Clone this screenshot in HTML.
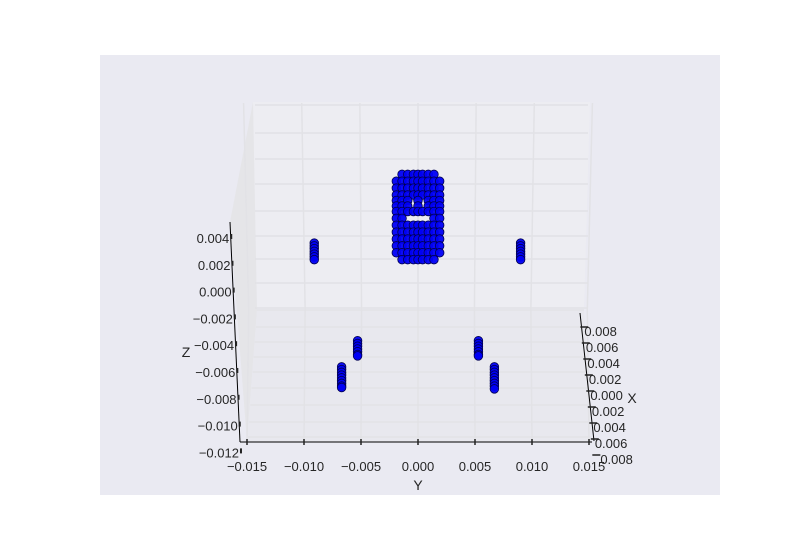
<!DOCTYPE html>
<html><head><meta charset="utf-8"><style>
html,body{margin:0;padding:0;background:#fff;}
svg{display:block;font-family:"Liberation Sans",sans-serif;}
</style></head><body>
<svg id="chart" width="800" height="550" viewBox="0 0 800 550" xmlns="http://www.w3.org/2000/svg">
<rect x="0" y="0" width="800" height="550" fill="#ffffff"/>
<rect x="100" y="55" width="620" height="440" fill="#eaeaf2"/>
<polygon points="253,102 590,102 584,310 257,310" fill="#ededf2"/>
<polygon points="253,102 257,310 247,442 230,222" fill="#e5e5e8"/>
<polygon points="257,310 584,310 592,442 247,442" fill="#e8e8ee"/>
<g id="grid" stroke="#e2e2e6" stroke-width="1.5" fill="none"></g>
<g id="marks"></g>
<g id="axes" font-size="13" fill="#262626"></g>
</svg>
<script>
const yTicks = [-0.015,-0.010,-0.005,0.000,0.005,0.010,0.015];
const yTickLabels = ["\u22120.015","\u22120.010","\u22120.005","0.000","0.005","0.010","0.015"];
const zTicks = [0.004,0.002,0.000,-0.002,-0.004,-0.006,-0.008,-0.010,-0.012];
const zTickLabels = ["0.004","0.002","0.000","\u22120.002","\u22120.004","\u22120.006","\u22120.008","\u22120.010","\u22120.012"];
const xTickLabels = ["0.008","0.006","0.004","0.002","0.000","0.002","0.004","0.006","0.008"];
// car body grid (data coords)
const bodyCols = [-0.0019,-0.0014,-0.0009,-0.0004,0.0000,0.0004,0.0009,0.0014,0.0019];
const bodyRows = [0.0087,0.0082,0.0077,0.0072,0.0068,0.0064,0.0060,0.0055,0.0050,0.0045,0.0040,0.0035,0.0030,0.0025];
const bodyMask = [".#######.","#########","#########","#########","###.#.###","###.#.###","#########","##.....##","#########","#########","#########","#########","#########",".#######."];
// legs (data coords): y position and list of z values
const legY = [-0.0091,0.0090,-0.0053,0.0053,-0.0067,0.0067];
const legZ = [
 [0.0037,0.0035,0.0033,0.0031,0.0029,0.0027,0.0025],
 [0.0037,0.0035,0.0033,0.0031,0.0029,0.0027,0.0025],
 [-0.0034,-0.0036,-0.0038,-0.0040,-0.0042,-0.0044,-0.0045],
 [-0.0034,-0.0036,-0.0038,-0.0040,-0.0042,-0.0044,-0.0045],
 [-0.0053,-0.0055,-0.0057,-0.0059,-0.0061,-0.0063,-0.0065,-0.0067,-0.0068],
 [-0.0053,-0.0055,-0.0057,-0.0059,-0.0061,-0.0063,-0.0065,-0.0067,-0.0069]
];
const NS="http://www.w3.org/2000/svg";
function sx(y){return 418+y*11400;}
function sz(z){return 294-z*13750;}
function mk(tag,attrs,parent){const e=document.createElementNS(NS,tag);for(const k in attrs)e.setAttribute(k,attrs[k]);parent.appendChild(e);return e;}
const grid=document.getElementById('grid'),marks=document.getElementById('marks'),axes=document.getElementById('axes');
[105,133,159,184,211,236,259,283,308].forEach(function(y){const l=mk('line',{x1:255,y1:y,x2:588,y2:y},grid);

});
[310,327,342,357,372,388,405,422,437].forEach(function(y,i){const l=mk('line',{x1:257-i*1.1,y1:y,x2:584+i*0.9,y2:y},grid);

});
yTicks.forEach(function(t){const x=sx(t);
const l=mk('line',{x1:x+(x-418)*0.02,y1:103,x2:x-(x-418)*0.01,y2:310},grid);


const f=mk('line',{x1:x-(x-418)*0.01,y1:310,x2:x,y2:442},grid);

});
function dot(y,z,name){const c=mk('circle',{cx:sx(y),cy:sz(z),r:4.3,fill:'#0000f5',stroke:'#000050','stroke-width':0.8,'fill-opacity':0.95},marks);

}
bodyRows.forEach(function(z,r){bodyCols.forEach(function(y,c){if(bodyMask[r][c]==='#')dot(y,z,'body-point');});});
legY.forEach(function(y,i){legZ[i].forEach(function(z){dot(y,z,'leg-point');});});
const ya=mk('line',{x1:240,y1:442,x2:592,y2:442,stroke:'#000','stroke-width':1},axes);


yTicks.forEach(function(t,i){const x=sx(t);
const tk=mk('line',{x1:x,y1:439,x2:x,y2:445,stroke:'#222','stroke-width':1.5},axes);


const tx=mk('text',{x:x,y:471,'text-anchor':'middle'},axes);tx.textContent=yTickLabels[i];

});
const yl=mk('text',{x:418,y:490,'text-anchor':'middle','font-size':14},axes);yl.textContent='Y';


const za=mk('line',{x1:230,y1:222,x2:240,y2:442,stroke:'#000','stroke-width':1},axes);


zTicks.forEach(function(t,i){const y=238+i*26.8;const x=230.5+(y-222)/220*10;
const tk=mk('line',{x1:x,y1:y-4,x2:x,y2:y+1,stroke:'#222','stroke-width':2},axes);


const tx=mk('text',{x:x-2,y:y+5,'text-anchor':'end'},axes);tx.textContent=zTickLabels[i];

});
const zl=mk('text',{x:186,y:357,'text-anchor':'middle','font-size':14},axes);zl.textContent='Z';


const xa=mk('line',{x1:580,y1:313,x2:594,y2:441,stroke:'#000','stroke-width':1},axes);


xTickLabels.forEach(function(lbl,i){const y=327+i*16;const x=582+(y-313)/128*12;
const tk=mk('line',{x1:x-3,y1:y,x2:x+5,y2:y,stroke:'#222','stroke-width':1.5},axes);


const tx=mk('text',{x:x+1+(i===8?4:0),y:y+9,'text-anchor':'start'},axes);tx.textContent=lbl;

});
const xl=mk('text',{x:632,y:403,'text-anchor':'middle','font-size':14},axes);xl.textContent='X';


</script>
</body></html>
